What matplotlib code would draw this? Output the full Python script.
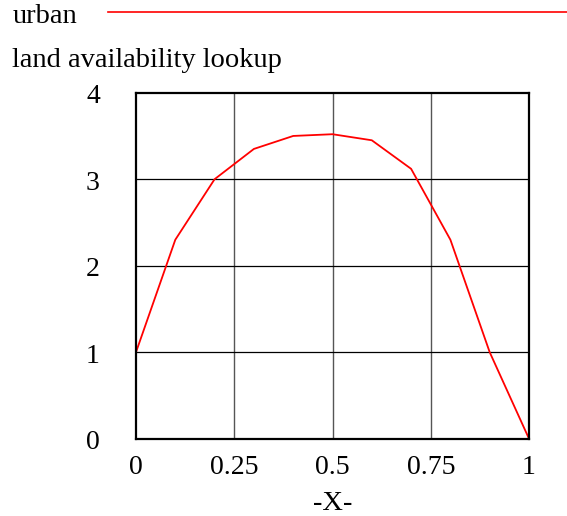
import matplotlib
matplotlib.use("Agg")
import matplotlib.pyplot as plt
import matplotlib.transforms as mtransforms
from matplotlib.lines import Line2D

x_vals = [0, 0.1, 0.2, 0.3, 0.4, 0.5, 0.6, 0.7, 0.8, 0.9, 1.0]
y_vals = [1.0, 2.3, 3.0, 3.35, 3.5, 3.52, 3.45, 3.12, 2.3, 1.0, 0.0]
x_ticks = [0, 0.25, 0.5, 0.75, 1]
x_tick_labels = ["0", "0.25", "0.5", "0.75", "1"]
y_ticks = [0, 1, 2, 3, 4]
y_tick_labels = ["0", "1", "2", "3", "4"]
series_name = "urban"
title = "land availability lookup"
x_label = "-X-"

plt.rcParams['font.family'] = ['Liberation Serif', 'DejaVu Serif']

W, H = 567, 516
fig = plt.figure(figsize=(W / 100, H / 100), dpi=100)
ax = fig.add_axes([136 / W, 1 - 438.7 / H, (529 - 136) / W, (438.7 - 92.7) / H])

ax.plot(x_vals, y_vals, color="#ff0000", lw=1.3, solid_joinstyle="miter")
ax.set_xlim(0, 1)
ax.set_ylim(0, 4)
ax.set_xticks(x_ticks)
ax.set_xticklabels(x_tick_labels)
ax.set_yticks(y_ticks)
ax.set_yticklabels(y_tick_labels)
ax.tick_params(length=0, labelsize=20, pad=12)
ax.tick_params(axis="y", pad=26)
offset = mtransforms.ScaledTranslation(0, -4 / 100, fig.dpi_scale_trans)
for t in ax.get_yticklabels():
    t.set_verticalalignment("center")
    t.set_transform(t.get_transform() + offset)
for xv in x_ticks[1:-1]:
    ax.axvline(xv, color="#555555", lw=1.0, zorder=0)
for yv in y_ticks[1:-1]:
    ax.axhline(yv, color="black", lw=0.9, zorder=0)
for s in ax.spines.values():
    s.set_linewidth(1.6)
    s.set_color("black")
ax.set_xlabel(x_label, fontsize=20.5, labelpad=8)

fig.text(13 / W, 1 - 23 / H, series_name, fontsize=20.5, ha="left", va="baseline")
fig.text(12 / W, 1 - 67 / H, title, fontsize=20.5, ha="left", va="baseline")
fig.add_artist(Line2D([108 / W, 1.0], [1 - 11.5 / H, 1 - 11.5 / H], color="#ff0000", lw=1.2))

fig.savefig("out.png", dpi=100)
